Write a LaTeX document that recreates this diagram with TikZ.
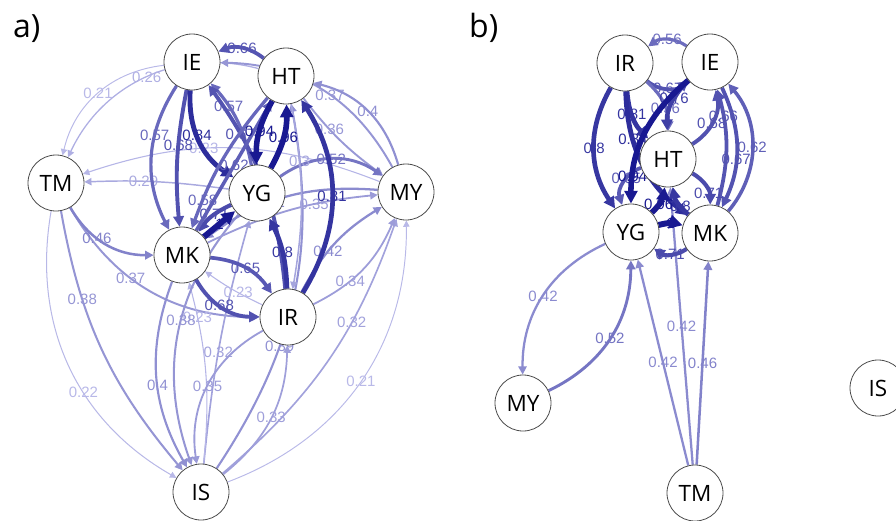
\documentclass[tikz,border=0pt]{standalone}
\usepackage{fontspec}
\setmainfont{Open Sans}
\newfontfamily\labelfont{Liberation Sans}
\usepackage{xcolor}
\usepackage{tikz}
\usetikzlibrary{arrows.meta,positioning}

\definecolor{edgedark}{RGB}{25,25,145}
\definecolor{edgelight}{RGB}{192,192,236}
\pgfdeclarelayer{edges}
\pgfsetlayers{edges,main}

\tikzset{
  net/.style={circle, draw=black!70, fill=white, line width=0.8pt, minimum size=56pt,
    inner sep=0pt, font=\fontsize{22.5}{22.5}\selectfont},
  elabel/.style={inner sep=0pt, font=\labelfont\fontsize{15}{15}\selectfont},
  panel/.style={anchor=base west, inner sep=0pt, font=\fontsize{32}{32}\selectfont}
}

% \netedge[to options]{from}{to}{weight}{label pos}
\newcommand{\netedge}[5][]{%
  \pgfmathtruncatemacro{\edgepct}{min(100,max(0,(#4-0.18)/0.75*100))}%
  \pgfmathsetmacro{\edgelw}{0.9+5*max(0,#4-0.2)/0.8}%
  \pgfmathsetmacro{\edgetip}{5+1.4*\edgelw}%
  \begin{pgfonlayer}{edges}
  \draw[line width=\edgelw pt, draw=edgedark!\edgepct!edgelight,
        -{Triangle[length=\edgetip pt, width=\edgetip pt]}]
    (#2) to[#1] node[elabel, pos=#5, text=edgedark!\edgepct!edgelight] {#4} (#3);
  \end{pgfonlayer}}

\begin{document}
\begin{tikzpicture}[x=1pt, y=-1pt]
\useasboundingbox (0,0) rectangle (896,520);
\clip (0,0) rectangle (896,520);

% panel a
\node[panel] (alab) at (13,37) {a)};
\node[net] (aIE) at (192,62) {IE};
\node[net] (aHT) at (286,76) {HT};
\node[net] (aTM) at (56,183) {TM};
\node[net] (aYG) at (257,193) {YG};
\node[net] (aMY) at (406,192) {MY};
\node[net] (aMK) at (182,255) {MK};
\node[net] (aIR) at (288,317) {IR};
\node[net] (aIS) at (201,492) {IS};

\netedge[bend right=40]{aHT}{aTM}{0.26}{0.5}
\netedge[bend right=35]{aIE}{aTM}{0.21}{0.5}
\netedge[bend right=20]{aMY}{aTM}{0.23}{0.6}
\netedge[bend right=5]{aYG}{aTM}{0.29}{0.6}
\netedge[bend right=35]{aTM}{aIS}{0.22}{0.6}
\netedge[bend right=15]{aTM}{aIS}{0.38}{0.3}
\netedge[bend right=30]{aTM}{aIR}{0.37}{0.4}
\netedge[bend right=30]{aTM}{aMK}{0.46}{0.4}
\netedge[bend right=35]{aIS}{aMY}{0.21}{0.5}
\netedge[bend right=15]{aIS}{aMY}{0.32}{0.65}
\netedge[bend right=22]{aIS}{aHT}{0.39}{0.35}
\netedge[bend right=25]{aIS}{aIR}{0.33}{0.5}
\netedge[bend left=5]{aIS}{aYG}{0.32}{0.45}
\netedge[bend right=10]{aIS}{aMK}{0.23}{0.82}
\netedge[bend right=35]{aIR}{aIS}{0.35}{0.5}
\netedge[bend right=30]{aYG}{aIS}{0.38}{0.45}
\netedge[bend right=25]{aMK}{aIS}{0.4}{0.55}
\netedge[bend right=30]{aMY}{aIE}{0.37}{0.45}
\netedge[bend right=30]{aMY}{aHT}{0.4}{0.5}
\netedge[bend right=20]{aMY}{aMK}{0.42}{0.6}
\netedge[bend right=8]{aHT}{aMY}{0.36}{0.35}
\netedge[bend left=10]{aMK}{aMY}{0.35}{0.65}
\netedge[bend right=20]{aIR}{aMY}{0.34}{0.35}
\netedge[bend left=15]{aIR}{aMY}{0.42}{0.4}
\netedge[bend left=35]{aYG}{aMY}{0.52}{0.5}
\netedge[bend left=10]{aHT}{aIR}{0.3}{0.3}
\netedge[bend left=5]{aIR}{aMK}{0.23}{0.4}
\netedge[bend right=30]{aIE}{aMK}{0.57}{0.35}
\netedge[bend right=8]{aIE}{aMK}{0.68}{0.4}
\netedge[bend right=30]{aIE}{aYG}{0.84}{0.45}
\netedge[bend right=15]{aYG}{aIE}{0.57}{0.7}
\netedge[bend right=15]{aIR}{aIE}{0.67}{0.75}
\netedge[bend right=10]{aHT}{aMK}{0.58}{0.82}
\netedge[bend right=15]{aYG}{aMK}{0.71}{0.45}
\netedge{aMK}{aHT}{0.62}{0.5}
\netedge[bend right=30]{aHT}{aIE}{0.66}{0.5}
\netedge[bend right=30]{aMK}{aIR}{0.68}{0.45}
\netedge[bend left=25]{aMK}{aIR}{0.65}{0.5}
\netedge[bend right=32]{aIR}{aHT}{0.81}{0.5}
\netedge[bend right=12]{aIR}{aYG}{0.8}{0.5}
\netedge[bend right=15]{aHT}{aYG}{0.94}{0.5}
\netedge[bend right=15]{aYG}{aHT}{0.96}{0.5}
\netedge{aMK}{aYG}{1}{0.5}

% panel b
\node[panel] (blab) at (469,37) {b)};
\node[net] (bIR) at (625,63) {IR};
\node[net] (bIE) at (710,62) {IE};
\node[net] (bHT) at (668,159) {HT};
\node[net] (bYG) at (631,232) {YG};
\node[net] (bMK) at (710,233) {MK};
\node[net] (bMY) at (523,403) {MY};
\node[net] (bTM) at (695,493) {TM};
\node[net] (bIS) at (878,388) {IS};

\netedge{bTM}{bYG}{0.42}{0.5}
\netedge{bTM}{bHT}{0.42}{0.5}
\netedge{bTM}{bMK}{0.46}{0.5}
\netedge[bend right=33]{bYG}{bMY}{0.42}{0.5}
\netedge[bend right=32]{bMY}{bYG}{0.52}{0.5}
\netedge[bend right=35]{bIE}{bIR}{0.56}{0.5}
\netedge[bend right=40]{bIR}{bIE}{0.67}{0.5}
\netedge[bend left=25]{bIR}{bHT}{0.56}{0.6}
\netedge[bend right=25]{bIE}{bHT}{0.76}{0.4}
\netedge[bend right=40]{bMK}{bIE}{0.62}{0.5}
\netedge[bend right=15]{bMK}{bIE}{0.66}{0.78}
\netedge[bend right=35]{bHT}{bIE}{0.68}{0.45}
\netedge[bend left=25]{bIE}{bMK}{0.67}{0.6}
\netedge[bend left=30]{bHT}{bMK}{0.71}{0.7}
\netedge[bend left=35]{bMK}{bYG}{0.71}{0.5}
\netedge[bend right=32]{bIR}{bYG}{0.8}{0.5}
\netedge[bend right=20]{bIR}{bHT}{0.81}{0.45}
\netedge[bend right=25]{bIR}{bMK}{0.84}{0.33}
\netedge[bend right=45]{bHT}{bYG}{0.65}{0.4}
\netedge[bend right=25]{bIE}{bYG}{0.94}{0.82}
\netedge[bend left=20]{bMK}{bHT}{0.8}{0.35}
\netedge[bend right=20]{bYG}{bHT}{0.96}{0.35}
\netedge[bend left=15]{bYG}{bMK}{1}{0.5}
\end{tikzpicture}
\end{document}
